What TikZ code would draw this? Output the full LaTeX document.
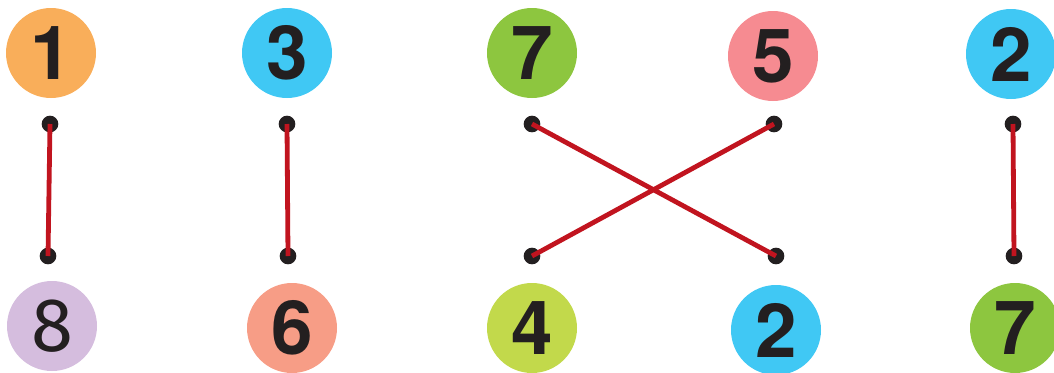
\documentclass[tikz,border=0pt]{standalone}
\usepackage{fontspec}
\setmainfont{TeX Gyre Heros}
\newfontfamily\eightfont{Fira Sans}
\definecolor{cOrange}{HTML}{F9AE5A}
\definecolor{cCyan}{HTML}{40C8F4}
\definecolor{cGreen}{HTML}{8DC63F}
\definecolor{cPink}{HTML}{F68B91}
\definecolor{cLilac}{HTML}{D5BDDE}
\definecolor{cSalmon}{HTML}{F79D86}
\definecolor{cLime}{HTML}{C2D94B}
\definecolor{cRed}{HTML}{C1141F}
\definecolor{cInk}{HTML}{231F20}
\begin{document}
\begin{tikzpicture}[x=0.75pt,y=-0.75pt,
  numball/.style={circle,fill=#1,minimum size=67.5pt,inner sep=0pt,text=cInk,
    font=\fontsize{56}{56}\selectfont\bfseries},
  pin/.style={circle,fill=cInk,minimum size=12.5pt,inner sep=0pt},
  link/.style={cRed,line width=3.6pt}]
\useasboundingbox (0,0) rectangle (1054,372);
% top row
\node[numball=cOrange] (t1) at (51,53) {1};
\node[numball=cCyan]   (t2) at (287,53) {3};
\node[numball=cGreen]  (t3) at (532,53) {7};
\node[numball=cPink]   (t4) at (773,56) {5};
\node[numball=cCyan]   (t5) at (1011,54) {2};
% bottom row
\node[numball=cLilac,font=\fontsize{57}{57}\selectfont\eightfont\mdseries] (b1) at (52,326) {8};
\node[numball=cSalmon] (b2) at (292,328) {6};
\node[numball=cLime]   (b3) at (532,328) {4};
\node[numball=cCyan]   (b4) at (776,330) {2};
\node[numball=cGreen]  (b5) at (1015,328) {7};
% dots
\node[pin] (p1) at (50,124) {};
\node[pin] (p2) at (287,124) {};
\node[pin] (p3) at (532,124) {};
\node[pin] (p4) at (774,124) {};
\node[pin] (p5) at (1013,124) {};
\node[pin] (q1) at (48,256) {};
\node[pin] (q2) at (288,256) {};
\node[pin] (q3) at (532,256) {};
\node[pin] (q4) at (776,256) {};
\node[pin] (q5) at (1014,256) {};
% links
\draw[link] (p1.center) -- (q1.center);
\draw[link] (p2.center) -- (q2.center);
\draw[link] (p3.center) -- (q4.center);
\draw[link] (p4.center) -- (q3.center);
\draw[link] (p5.center) -- (q5.center);
\end{tikzpicture}
\end{document}
